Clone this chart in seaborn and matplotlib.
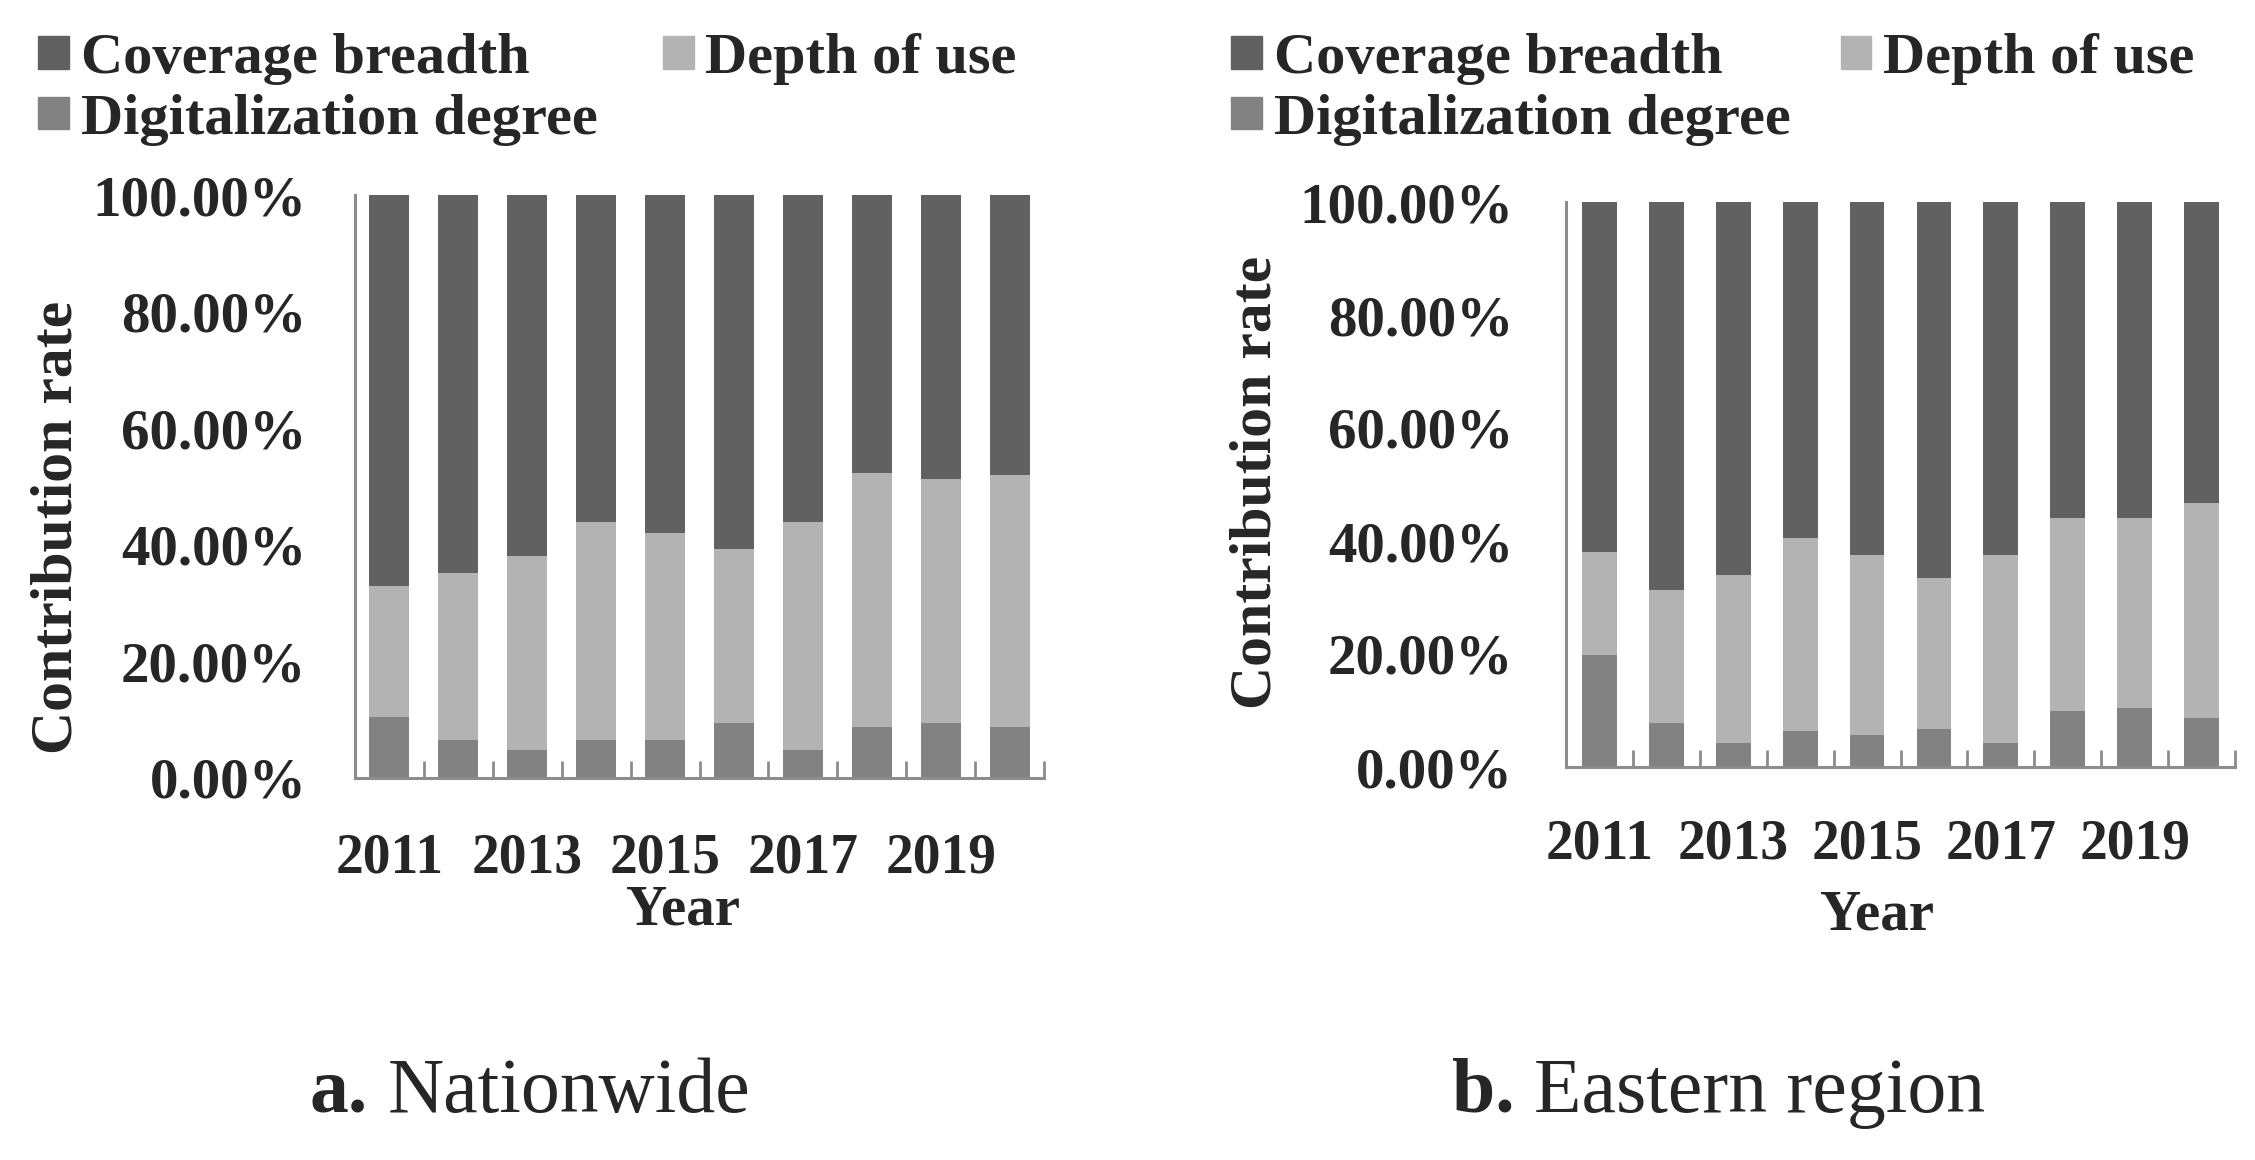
import numpy as np
import pandas as pd
import matplotlib
matplotlib.use("Agg")
import matplotlib.pyplot as plt
import seaborn as sns
from matplotlib.patches import Patch
from matplotlib.ticker import PercentFormatter

# Contribution shares (%), bottom to top
years = [str(y) for y in range(2011, 2021)]
series = ["Coverage breadth", "Depth of use", "Digitalization degree"]

nat_digital = [10.5, 6.5, 4.8, 6.5, 6.5, 9.4, 4.8, 8.8, 9.4, 8.8]
nat_depth = [22.4, 28.7, 33.3, 37.4, 35.6, 29.8, 39.1, 43.6, 41.9, 43.1]
nat_coverage = [67.1, 64.8, 61.9, 56.1, 57.9, 60.8, 56.1, 47.6, 48.7, 48.1]

east_digital = [19.8, 7.8, 4.3, 6.3, 5.7, 6.8, 4.3, 9.9, 10.4, 8.6]
east_depth = [18.3, 23.5, 29.7, 34.2, 31.8, 26.6, 33.2, 34.1, 33.6, 38.1]
east_coverage = [61.9, 68.7, 66.0, 59.5, 62.5, 66.6, 62.5, 56.0, 56.0, 53.3]

c_cov, c_dep, c_dig = "#616161", "#b3b3b3", "#828282"
spine_col = "#8c8c8c"

sns.set_style("white")
plt.rcParams["font.family"] = ["Liberation Serif", "DejaVu Serif"]
plt.rcParams["font.weight"] = "bold"
plt.rcParams["axes.labelweight"] = "bold"

fig = plt.figure(figsize=(22.55, 11.6), dpi=100)
W, H = 2255, 1160


def px_axes(x0, y0, x1, y1):
    return fig.add_axes([x0 / W, 1 - y1 / H, (x1 - x0) / W, (y1 - y0) / H])


def draw_panel(ax, digital, depth, coverage, bar_w, ypad, xpad, ylab_xy, xlab_xy):
    df = pd.DataFrame({"Year": years,
                       "dig": np.array(digital) / 100,
                       "dep": np.array(depth) / 100,
                       "cov": np.array(coverage) / 100})
    df["dep_top"] = df["dig"] + df["dep"]
    df["cov_top"] = df["dep_top"] + df["cov"]

    for col, c in [("cov_top", c_cov), ("dep_top", c_dep), ("dig", c_dig)]:
        sns.barplot(data=df, x="Year", y=col, color=c, saturation=1,
                    width=bar_w, linewidth=0, ax=ax)

    ax.set_ylim(0, 1)
    ax.set_xlim(-0.5, 9.5)
    sns.despine(ax=ax)
    for s in ["left", "bottom"]:
        ax.spines[s].set_color(spine_col)
        ax.spines[s].set_linewidth(2.2)

    ax.set_yticks(np.arange(0, 1.01, 0.2))
    ax.yaxis.set_major_formatter(PercentFormatter(1, decimals=2))
    ax.tick_params(axis="y", direction="in", length=11, width=2,
                   color=spine_col, pad=ypad, labelsize=41)

    ax.set_xticks(range(0, 10, 2), years[::2])
    ax.set_xticks(np.arange(0.5, 10, 1), minor=True)
    ax.tick_params(axis="x", which="major", length=0, pad=xpad, labelsize=40)
    ax.tick_params(axis="x", which="minor", direction="in", length=12,
                   width=2, color=spine_col, bottom=True)

    ax.set_ylabel("Contribution rate", fontsize=43)
    ax.yaxis.set_label_coords(*ylab_xy)
    ax.set_xlabel("Year", fontsize=41)
    ax.xaxis.set_label_coords(*xlab_xy)


ax1 = px_axes(355, 195, 1044, 778)
draw_panel(ax1, nat_digital, nat_depth, nat_coverage, 0.58, 35, 39,
           (-0.392, 0.43), (0.476, -0.183))

ax2 = px_axes(1566, 202, 2235, 767)
draw_panel(ax2, east_digital, east_depth, east_coverage, 0.52, 38, 37,
           (-0.423, 0.504), (0.465, -0.216))

handles = [Patch(color=c_cov), Patch(color=c_dig), Patch(color=c_dep)]
labels = [series[0], series[2], series[1]]
for x0, cs in [(38, 1.12), (1231, 0.86)]:
    fig.legend(handles, labels, loc="upper left",
               bbox_to_anchor=(x0 / W, 1 - 33 / H), ncol=2, frameon=False,
               fontsize=42, handlelength=0.53, handleheight=0.48,
               handletextpad=0.2, columnspacing=cs, labelspacing=0.15,
               borderpad=0, borderaxespad=0)

# panel captions
for x0, tag, name, ax in [(310, "a.", "Nationwide", ax1),
                          (1452, "b.", "Eastern region", ax2)]:
    t = fig.text(x0 / W, 1 - 1112 / H, tag, fontsize=56, fontweight="bold",
                 ha="left", va="baseline")
    ax.annotate(name, xy=(1, 0), xycoords=t, xytext=(14, 0),
                textcoords="offset points", ha="left", va="bottom",
                fontsize=56, fontweight="normal", annotation_clip=False)

fig.savefig("out.png", dpi=100)
